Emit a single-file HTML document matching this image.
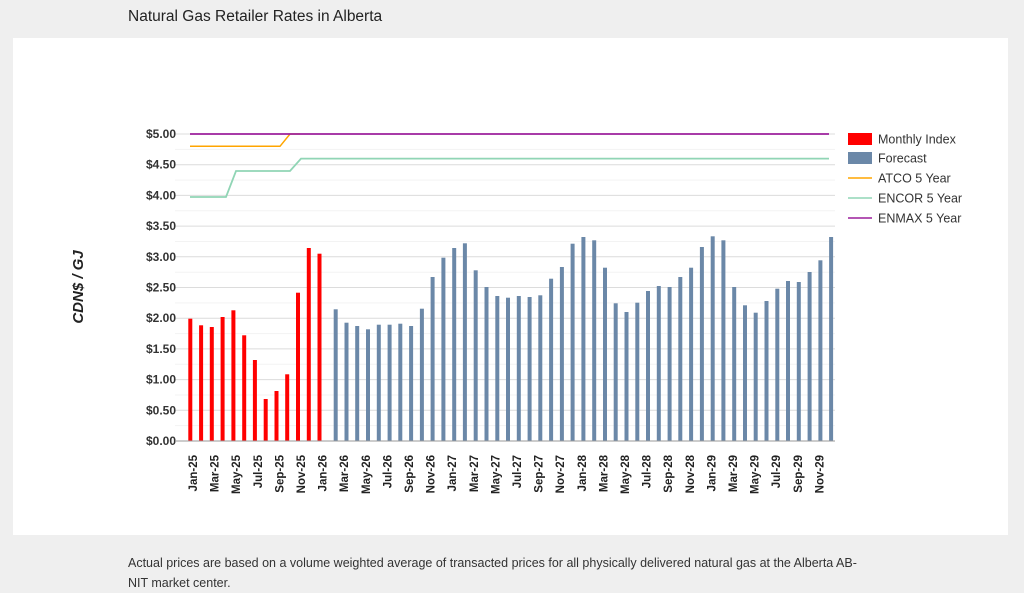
<!DOCTYPE html>
<html><head><meta charset="utf-8"><style>
body{margin:0;width:1024px;height:592px;background:#efefef;font-family:"Liberation Sans",sans-serif;overflow:hidden;position:relative}
.t{position:absolute;left:128px;top:8px;font-size:15.5px;color:#222}
.card{position:absolute;left:13px;top:38px;width:995px;height:497px;background:#fff}
.f{position:absolute;left:128px;top:553px;font-size:12.5px;color:#333;line-height:20px;white-space:nowrap}
svg{position:absolute;left:0;top:0}
</style></head><body>
<div class="t">Natural Gas Retailer Rates in Alberta</div>
<div class="card"></div>
<div class="f">Actual prices are based on a volume weighted average of transacted prices for all physically delivered natural gas at the Alberta AB-<br>NIT market center.</div>
<svg width="1024" height="592" xmlns="http://www.w3.org/2000/svg" font-family="Liberation Sans, sans-serif">
<g stroke="#f3f3f3" stroke-width="1">
<line x1="175" x2="835" y1="425.6" y2="425.6"/><line x1="175" x2="835" y1="364.3" y2="364.3"/><line x1="175" x2="835" y1="302.9" y2="302.9"/><line x1="175" x2="835" y1="241.5" y2="241.5"/><line x1="175" x2="835" y1="180.1" y2="180.1"/><line x1="175" x2="835" y1="395" y2="395"/><line x1="175" x2="835" y1="333.6" y2="333.6"/><line x1="175" x2="835" y1="272.2" y2="272.2"/><line x1="175" x2="835" y1="210.8" y2="210.8"/><line x1="175" x2="835" y1="149.4" y2="149.4"/>
</g>
<g stroke="#dcdcdc" stroke-width="1">
<line x1="175" x2="835" y1="410.3" y2="410.3"/><line x1="175" x2="835" y1="379.6" y2="379.6"/><line x1="175" x2="835" y1="348.9" y2="348.9"/><line x1="175" x2="835" y1="318.2" y2="318.2"/><line x1="175" x2="835" y1="287.5" y2="287.5"/><line x1="175" x2="835" y1="256.8" y2="256.8"/><line x1="175" x2="835" y1="226.1" y2="226.1"/><line x1="175" x2="835" y1="195.4" y2="195.4"/><line x1="175" x2="835" y1="164.7" y2="164.7"/><line x1="175" x2="835" y1="134" y2="134"/>
</g>
<g font-size="12" font-weight="bold" fill="#333" text-anchor="end">
<text x="176" y="445">$0.00</text><text x="176" y="414.3">$0.50</text><text x="176" y="383.6">$1.00</text><text x="176" y="352.9">$1.50</text><text x="176" y="322.2">$2.00</text><text x="176" y="291.5">$2.50</text><text x="176" y="260.8">$3.00</text><text x="176" y="230.1">$3.50</text><text x="176" y="199.4">$4.00</text><text x="176" y="168.7">$4.50</text><text x="176" y="138">$5.00</text>
</g>
<text transform="translate(83,287) rotate(-90)" text-anchor="middle" font-size="15" font-weight="bold" font-style="italic" fill="#222">CDN$ / GJ</text>
<g fill="#ff0000">
<rect x="188.3" y="318.7" width="4" height="122.3"/><rect x="199.1" y="325.3" width="4" height="115.7"/><rect x="209.8" y="327" width="4" height="114"/><rect x="220.6" y="317" width="4" height="124"/><rect x="231.4" y="310.3" width="4" height="130.7"/><rect x="242.2" y="335.3" width="4" height="105.7"/><rect x="252.9" y="360" width="4" height="81"/><rect x="263.7" y="399" width="4" height="42"/><rect x="274.5" y="391" width="4" height="50"/><rect x="285.2" y="374.3" width="4" height="66.7"/><rect x="296" y="292.7" width="4" height="148.3"/><rect x="306.8" y="248" width="4" height="193"/><rect x="317.5" y="253.7" width="4" height="187.3"/>
</g>
<g fill="#6b88a8">
<rect x="333.7" y="309.3" width="4" height="131.7"/><rect x="344.5" y="322.7" width="4" height="118.3"/><rect x="355.2" y="326" width="4" height="115"/><rect x="366" y="329.3" width="4" height="111.7"/><rect x="376.8" y="324.7" width="4" height="116.3"/><rect x="387.6" y="324.7" width="4" height="116.3"/><rect x="398.3" y="323.7" width="4" height="117.3"/><rect x="409.1" y="326" width="4" height="115"/><rect x="419.9" y="308.7" width="4" height="132.3"/><rect x="430.6" y="277" width="4" height="164"/><rect x="441.4" y="257.7" width="4" height="183.3"/><rect x="452.2" y="248" width="4" height="193"/><rect x="462.9" y="243.3" width="4" height="197.7"/><rect x="473.7" y="270.3" width="4" height="170.7"/><rect x="484.5" y="287" width="4" height="154"/><rect x="495.3" y="296" width="4" height="145"/><rect x="506" y="297.7" width="4" height="143.3"/><rect x="516.8" y="296" width="4" height="145"/><rect x="527.6" y="297" width="4" height="144"/><rect x="538.3" y="295.3" width="4" height="145.7"/><rect x="549.1" y="278.7" width="4" height="162.3"/><rect x="559.9" y="267" width="4" height="174"/><rect x="570.6" y="243.7" width="4" height="197.3"/><rect x="581.4" y="237" width="4" height="204"/><rect x="592.2" y="240.3" width="4" height="200.7"/><rect x="603" y="267.7" width="4" height="173.3"/><rect x="613.7" y="303.3" width="4" height="137.7"/><rect x="624.5" y="312" width="4" height="129"/><rect x="635.3" y="302.7" width="4" height="138.3"/><rect x="646" y="291" width="4" height="150"/><rect x="656.8" y="286" width="4" height="155"/><rect x="667.6" y="287" width="4" height="154"/><rect x="678.3" y="277" width="4" height="164"/><rect x="689.1" y="267.7" width="4" height="173.3"/><rect x="699.9" y="247" width="4" height="194"/><rect x="710.7" y="236.3" width="4" height="204.7"/><rect x="721.4" y="240.3" width="4" height="200.7"/><rect x="732.2" y="287" width="4" height="154"/><rect x="743" y="305.3" width="4" height="135.7"/><rect x="753.7" y="312.7" width="4" height="128.3"/><rect x="764.5" y="301" width="4" height="140"/><rect x="775.3" y="288.7" width="4" height="152.3"/><rect x="786" y="281" width="4" height="160"/><rect x="796.8" y="282" width="4" height="159"/><rect x="807.6" y="272" width="4" height="169"/><rect x="818.4" y="260.3" width="4" height="180.7"/><rect x="829.1" y="237" width="4" height="204"/>
</g>
<line x1="175" x2="835" y1="441" y2="441" stroke="#999" stroke-width="1"/>
<polyline points="190,146.3 280,146.3 290,134 300,134" fill="none" stroke="#ffa500" stroke-width="1.5"/>
<polyline points="190,197 226,197 236,171 290,171 301,158.6 829,158.6" fill="none" stroke="#90d5b5" stroke-width="1.8"/>
<line x1="190" x2="829" y1="134" y2="134" stroke="#9c1f9c" stroke-width="1.8"/>
<rect x="848" y="133" width="24" height="12" fill="#ff0000"/>
<rect x="848" y="152" width="24" height="12" fill="#6b88a8"/>
<line x1="848" x2="872" y1="178" y2="178" stroke="#ffa500" stroke-width="1.5"/>
<line x1="848" x2="872" y1="198" y2="198" stroke="#90d5b5" stroke-width="1.5"/>
<line x1="848" x2="872" y1="218" y2="218" stroke="#9c1f9c" stroke-width="1.5"/>
<g font-size="12.5" fill="#333">
<text x="878" y="143.5">Monthly Index</text><text x="878" y="162.5">Forecast</text><text x="878" y="182.5">ATCO 5 Year</text><text x="878" y="202.5">ENCOR 5 Year</text><text x="878" y="222.5">ENMAX 5 Year</text>
</g>
<g font-size="11.5" font-weight="bold" fill="#222" text-anchor="end">
<text transform="translate(197,455) rotate(-90)">Jan-25</text><text transform="translate(218.6,455) rotate(-90)">Mar-25</text><text transform="translate(240.2,455) rotate(-90)">May-25</text><text transform="translate(261.8,455) rotate(-90)">Jul-25</text><text transform="translate(283.4,455) rotate(-90)">Sep-25</text><text transform="translate(305,455) rotate(-90)">Nov-25</text>
<text transform="translate(326.6,455) rotate(-90)">Jan-26</text><text transform="translate(348.2,455) rotate(-90)">Mar-26</text><text transform="translate(369.8,455) rotate(-90)">May-26</text><text transform="translate(391.4,455) rotate(-90)">Jul-26</text><text transform="translate(413,455) rotate(-90)">Sep-26</text><text transform="translate(434.6,455) rotate(-90)">Nov-26</text>
<text transform="translate(456.2,455) rotate(-90)">Jan-27</text><text transform="translate(477.8,455) rotate(-90)">Mar-27</text><text transform="translate(499.4,455) rotate(-90)">May-27</text><text transform="translate(521,455) rotate(-90)">Jul-27</text><text transform="translate(542.6,455) rotate(-90)">Sep-27</text><text transform="translate(564.2,455) rotate(-90)">Nov-27</text>
<text transform="translate(585.8,455) rotate(-90)">Jan-28</text><text transform="translate(607.4,455) rotate(-90)">Mar-28</text><text transform="translate(629,455) rotate(-90)">May-28</text><text transform="translate(650.6,455) rotate(-90)">Jul-28</text><text transform="translate(672.2,455) rotate(-90)">Sep-28</text><text transform="translate(693.8,455) rotate(-90)">Nov-28</text>
<text transform="translate(715.4,455) rotate(-90)">Jan-29</text><text transform="translate(737,455) rotate(-90)">Mar-29</text><text transform="translate(758.6,455) rotate(-90)">May-29</text><text transform="translate(780.2,455) rotate(-90)">Jul-29</text><text transform="translate(801.8,455) rotate(-90)">Sep-29</text><text transform="translate(823.4,455) rotate(-90)">Nov-29</text>
</g>
</svg>
</body></html>
